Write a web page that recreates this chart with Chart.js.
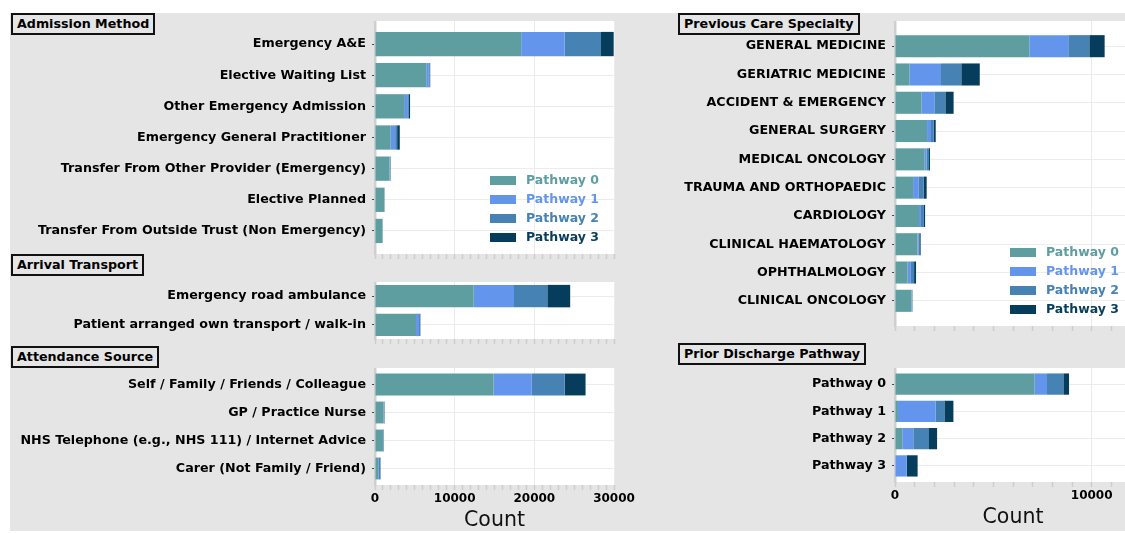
<!DOCTYPE html>
<html><head><meta charset="utf-8">
<script src="https://cdn.jsdelivr.net/npm/chart.js@4.4.1/dist/chart.umd.min.js"></script>
<style>
html,body{margin:0;padding:0;width:1125px;height:533px;overflow:hidden;background:#fff;}
#fig{position:absolute;left:10px;top:13px;width:1115px;height:518px;background:#e5e5e5;}
canvas{position:absolute;}
.ttl{position:absolute;font-family:"DejaVu Sans";font-weight:bold;font-size:12.7px;color:#000;border:2px solid #111;padding:0 4px;line-height:18px;white-space:nowrap;}
</style></head><body>
<div id="fig"></div>
<div class="ttl" style="left:11px;top:13px">Admission Method</div>
<div class="ttl" style="left:11px;top:254px">Arrival Transport</div>
<div class="ttl" style="left:11px;top:346px">Attendance Source</div>
<div class="ttl" style="left:678px;top:13px">Previous Care Specialty</div>
<div class="ttl" style="left:678px;top:343px">Prior Discharge Pathway</div>
<script>
// ---- data ----
const pathwayNames = ['Pathway 0', 'Pathway 1', 'Pathway 2', 'Pathway 3'];

const admissionLabels = ['Emergency A&E', 'Elective Waiting List', 'Other Emergency Admission',
  'Emergency General Practitioner', 'Transfer From Other Provider (Emergency)', 'Elective Planned',
  'Transfer From Outside Trust (Non Emergency)'];
const admissionP0 = [18350, 6430, 3650, 1970, 1800, 1180, 940];
const admissionP1 = [5450, 330, 400, 560, 60, 20, 20];
const admissionP2 = [4570, 110, 200, 250, 80, 15, 15];
const admissionP3 = [1590, 60, 150, 330, 30, 5, 5];

const transportLabels = ['Emergency road ambulance', 'Patient arranged own transport / walk-in'];
const transportP0 = [12390, 5150];
const transportP1 = [5060, 370];
const transportP2 = [4180, 120];
const transportP3 = [2870, 50];

const attendanceLabels = ['Self / Family / Friends / Colleague', 'GP / Practice Nurse',
  'NHS Telephone (e.g., NHS 111) / Internet Advice', 'Carer (Not Family / Friend)'];
const attendanceP0 = [14870, 1080, 1000, 380];
const attendanceP1 = [4810, 60, 60, 100];
const attendanceP2 = [4120, 60, 50, 150];
const attendanceP3 = [2630, 20, 20, 50];

const specialtyLabels = ['GENERAL MEDICINE', 'GERIATRIC MEDICINE', 'ACCIDENT & EMERGENCY', 'GENERAL SURGERY',
  'MEDICAL ONCOLOGY', 'TRAUMA AND ORTHOPAEDIC', 'CARDIOLOGY', 'CLINICAL HAEMATOLOGY', 'OPHTHALMOLOGY',
  'CLINICAL ONCOLOGY'];
const specialtyP0 = [6830, 730, 1340, 1630, 1510, 920, 1220, 1140, 640, 830];
const specialtyP1 = [1980, 1610, 660, 200, 100, 270, 100, 50, 140, 30];
const specialtyP2 = [1070, 1030, 560, 140, 120, 270, 150, 100, 190, 20];
const specialtyP3 = [780, 940, 420, 100, 50, 150, 60, 30, 100, 10];

const dischargeLabels = ['Pathway 0', 'Pathway 1', 'Pathway 2', 'Pathway 3'];
const dischargeP0 = [7100, 150, 370, 30];
const dischargeP1 = [630, 1920, 560, 550];
const dischargeP2 = [830, 440, 800, 30];
const dischargeP3 = [290, 460, 410, 540];

const leftTickLabels = [0, 10000, 20000, 30000];
const rightTickLabels = [0, 10000];

// ---- styling ----
const colors = ['#5F9EA0', '#6495ED', '#4682B4', '#073d5c'];
Chart.defaults.font.family = '"DejaVu Sans"';

const whiteBg = {
  id: 'whiteBg',
  beforeDraw(chart) {
    const a = chart.chartArea, c = chart.ctx;
    c.save(); c.fillStyle = '#ffffff';
    c.fillRect(a.left, a.top, a.right - a.left, a.bottom - a.top);
    c.restore();
  }
};
const insideLegend = {
  id: 'insideLegend',
  afterDraw(chart, args, opts) {
    if (!opts || !opts.show) return;
    const c = chart.ctx, a = chart.chartArea, ds = chart.data.datasets;
    c.save();
    c.font = 'bold 12.5px "DejaVu Sans"';
    c.textBaseline = 'middle';
    c.textAlign = 'left';
    ds.forEach((d, k) => {
      const y = a.bottom + opts.lastRow - (ds.length - 1 - k) * opts.rowGap;
      const x = a.left + opts.boxX;
      c.fillStyle = d.backgroundColor;
      c.fillRect(x, y - opts.boxH / 2, opts.boxW, opts.boxH);
      c.fillText(d.label, x + opts.textX, y);
    });
    c.restore();
  }
};
Chart.register(insideLegend);

function panel(o) {
  const cv = document.createElement('canvas');
  cv.width = o.width; cv.height = o.plotH + o.axisH;
  cv.style.left = o.left + 'px'; cv.style.top = o.top + 'px';
  document.body.appendChild(cv);
  const n = o.labels.length;
  const m = 0.05 * (n - 1 + 0.8);
  new Chart(cv, {
    type: 'bar',
    data: {
      datasets: o.series.map((vals, k) => ({
        label: pathwayNames[k],
        data: vals.map((v, i) => ({ x: v, y: i })),
        backgroundColor: colors[k],
        borderWidth: 0,
        categoryPercentage: 1,
        barPercentage: 0.78
      }))
    },
    options: {
      indexAxis: 'y', responsive: false, animation: false, devicePixelRatio: 1,
      layout: { padding: { left: 0, right: o.padRight, top: 0, bottom: 0 } },
      plugins: {
        legend: { display: false }, tooltip: { enabled: false },
        insideLegend: o.legend ? { show: true, boxX: 115, textX: 36, boxW: 26, boxH: 9, rowGap: 19, lastRow: -16.5 } : { show: false }
      },
      scales: {
        x: {
          type: 'linear', stacked: true, min: 0, max: o.xMax, offset: false,
          border: { display: false },
          grid: {
            offset: false,
            color: c => (c.tick && c.tick.value > 0 && c.tick.value % 10000 === 0) ? '#ebebeb' : 'rgba(0,0,0,0)',
            tickColor: '#cdcdcd', tickLength: 5, tickWidth: 1.5, lineWidth: 1
          },
          ticks: {
            display: o.showX, stepSize: 1000, autoSkip: false, maxRotation: 0, padding: 2,
            color: '#000', font: { size: 12, weight: 'bold' },
            callback: v => o.xLabels.includes(v) ? String(v) : ''
          },
          title: { display: o.showX, text: 'Count', color: '#111', font: { size: 20.5, weight: 'normal' }, padding: { top: 0, bottom: 0 } },
          afterFit: s => { s.height = o.axisH; s.paddingLeft = 0; s.paddingRight = 0; }
        },
        y: {
          type: 'linear', stacked: true, reverse: true, offset: false, bounds: 'data',
          min: -0.4 - m, max: n - 1 + 0.4 + m,
          afterBuildTicks: s => { s.ticks = o.labels.map((_, i) => ({ value: i })); },
          afterFit: s => { s.width = o.yWidth; s.paddingTop = 0; s.paddingBottom = 0; },
          border: { display: true, color: '#cfcfcf', width: 2.5 },
          grid: { offset: false, color: '#ececec', tickColor: '#444', tickLength: 3, lineWidth: 1 },
          ticks: {
            autoSkip: false, padding: 6, color: '#000', font: { size: 12.7, weight: 'bold' },
            callback: v => o.labels[v]
          }
        }
      }
    },
    plugins: [whiteBg]
  });
}

panel({ left: 0, top: 21, width: 650, plotH: 233, axisH: 7, yWidth: 375, padRight: 36, xMax: 30000,
  labels: admissionLabels, series: [admissionP0, admissionP1, admissionP2, admissionP3],
  showX: false, xLabels: leftTickLabels, legend: true });
panel({ left: 0, top: 282, width: 650, plotH: 57, axisH: 7, yWidth: 375, padRight: 36, xMax: 30000,
  labels: transportLabels, series: [transportP0, transportP1, transportP2, transportP3],
  showX: false, xLabels: leftTickLabels, legend: false });
panel({ left: 0, top: 368, width: 650, plotH: 117, axisH: 48, yWidth: 375, padRight: 36, xMax: 30000,
  labels: attendanceLabels, series: [attendanceP0, attendanceP1, attendanceP2, attendanceP3],
  showX: true, xLabels: leftTickLabels, legend: false });
panel({ left: 620, top: 21, width: 511, plotH: 305, axisH: 7, yWidth: 275, padRight: 0, xMax: 12000,
  labels: specialtyLabels, series: [specialtyP0, specialtyP1, specialtyP2, specialtyP3],
  showX: false, xLabels: rightTickLabels, legend: true });
panel({ left: 620, top: 368, width: 511, plotH: 114, axisH: 48, yWidth: 275, padRight: 0, xMax: 12000,
  labels: dischargeLabels, series: [dischargeP0, dischargeP1, dischargeP2, dischargeP3],
  showX: true, xLabels: rightTickLabels, legend: false });
</script>
</body></html>
